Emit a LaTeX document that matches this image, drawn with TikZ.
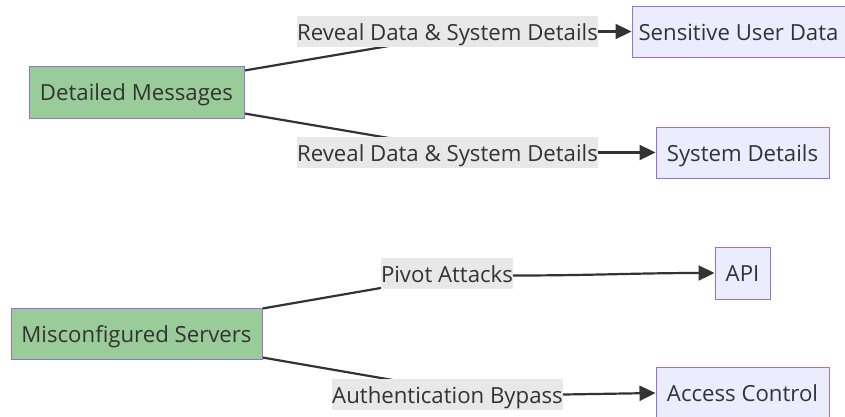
\documentclass[tikz,border=0pt]{standalone}
\usepackage{fontspec}
\setmainfont{Open Sans}
\usetikzlibrary{arrows.meta,backgrounds,calc}
\definecolor{txt}{HTML}{333333}
\definecolor{greenfill}{HTML}{99CC99}
\definecolor{nodefill}{HTML}{ECECFF}
\definecolor{nodeborder}{HTML}{9370DB}
\definecolor{lblbg}{HTML}{E8E8E8}
\begin{document}
\begin{tikzpicture}[x=1pt,y=1pt,
  base/.style={font=\fontsize{22.2}{25}\selectfont, text=txt, inner xsep=0pt, inner ysep=0pt,
    text height=17.2pt, text depth=0pt},
  srcbox/.style={base, draw=nodeborder, fill=greenfill, line width=1pt, minimum height=51pt},
  dstbox/.style={base, draw=nodeborder, fill=nodefill, line width=1pt, minimum height=51pt},
  lbl/.style={base, fill=lblbg, minimum height=31pt},
  edge/.style={draw=txt, line width=2.2pt},
  arr/.style={edge, -{Triangle[length=16pt,width=15pt]}}]
\useasboundingbox (0,0) rectangle (845,-416);
% nodes
\node[srcbox, minimum width=215pt, minimum height=52pt] (dm) at (136.5,-92) {Detailed Messages};
\node[dstbox, minimum width=213pt] (sud) at (738.5,-31.5) {Sensitive User Data};
\node[dstbox, minimum width=173pt] (sd) at (742.5,-152.5) {System Details};
\node[srcbox, minimum width=251pt] (ms) at (136.5,-333.5) {Misconfigured Servers};
\node[dstbox, minimum width=55pt, minimum height=52pt] (api) at (742.5,-273) {API};
\node[dstbox, minimum width=173pt] (ac) at (742.5,-393) {Access Control};
% labels
\node[lbl, minimum width=301pt] (l1) at (447.5,-31.5) {Reveal Data \& System Details};
\node[lbl, minimum width=301pt] (l2) at (447.5,-152.5) {Reveal Data \& System Details};
\node[lbl, minimum width=132pt] (pa) at (447,-273.5) {Pivot Attacks};
\node[lbl, minimum width=231pt] (ab) at (447.5,-394.5) {Authentication Bypass};
% edges
\begin{pgfonlayer}{background}
\fill[white] (0,0) rectangle (845,-416);
\draw[edge] ([yshift=-5pt]dm.north east) -- ([yshift=-4.5pt]l1.center);
\draw[edge] ([yshift=5pt]dm.south east) -- ([yshift=4.5pt]l2.center);
\draw[edge] ([yshift=-1pt]ms.north east) -- ([yshift=-3pt]pa.center);
\draw[edge] ([yshift=2pt]ms.south east) -- ([yshift=5pt]ab.center);
\end{pgfonlayer}
\draw[arr] (l1.east) -- (sud.west);
\draw[arr] (l2.east) -- (sd.west);
\draw[arr] ([yshift=-2pt]pa.east) to[out=0,in=180] (api.west);
\draw[arr] (ab.east) -- (ac.west);
\end{tikzpicture}
\end{document}
